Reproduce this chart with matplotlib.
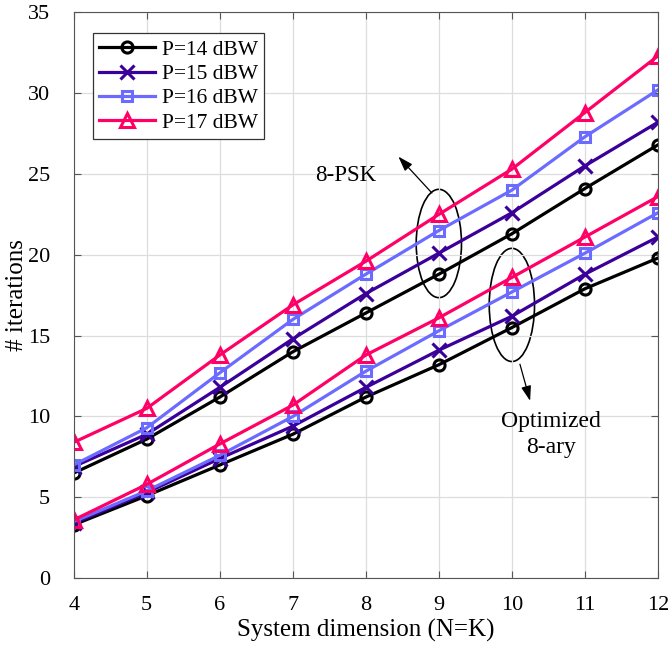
import matplotlib.pyplot as plt
from matplotlib.patches import Ellipse

plt.rcParams['font.family'] = ['Liberation Serif', 'DejaVu Serif']
plt.rcParams['mathtext.fontset'] = 'stix'

N = [4, 5, 6, 7, 8, 9, 10, 11, 12]

# 8-PSK
psk_14 = [6.5, 8.6, 11.2, 14.0, 16.4, 18.8, 21.3, 24.1, 26.8]
psk_15 = [6.9, 8.9, 11.8, 14.8, 17.6, 20.1, 22.6, 25.5, 28.2]
psk_16 = [7.0, 9.3, 12.7, 16.0, 18.8, 21.5, 24.0, 27.3, 30.2]
psk_17 = [8.4, 10.5, 13.8, 16.9, 19.6, 22.5, 25.3, 28.8, 32.3]

# optimized 8-ary
opt_14 = [3.3, 5.1, 7.0, 8.9, 11.2, 13.2, 15.5, 17.9, 19.8]
opt_15 = [3.4, 5.3, 7.4, 9.4, 11.8, 14.1, 16.2, 18.8, 21.1]
opt_16 = [3.5, 5.4, 7.6, 10.0, 12.8, 15.3, 17.7, 20.1, 22.6]
opt_17 = [3.6, 5.8, 8.3, 10.7, 13.8, 16.1, 18.6, 21.1, 23.6]

labels = ['P=14 dBW', 'P=15 dBW', 'P=16 dBW', 'P=17 dBW']
colors = ['black', '#3a0099', '#6b6bff', '#ff0066']
markers = ['o', 'x', 's', '^']
msizes = [8, 10, 7.5, 9.5]

fig = plt.figure(figsize=(6.7, 6.46), dpi=100)
ax = fig.add_axes([0.110, 0.105, 0.872, 0.876])

for i, (a, b) in enumerate(zip([psk_14, psk_15, psk_16, psk_17],
                               [opt_14, opt_15, opt_16, opt_17])):
    kw = dict(color=colors[i], marker=markers[i], markersize=msizes[i],
              markerfacecolor='none', markeredgewidth=2.2, linewidth=2.3)
    ax.plot(N, a, label=labels[i], **kw)
    ax.plot(N, b, **kw)

ax.add_patch(Ellipse((9.0, 20.7), 0.62, 6.7, fill=False, lw=1.2, color='black'))
ax.add_patch(Ellipse((10.0, 16.9), 0.62, 7.0, fill=False, lw=1.2, color='black'))

ax.annotate('', xy=(8.42, 26.2), xytext=(8.93, 23.7),
            arrowprops=dict(arrowstyle='-|>,head_length=0.9,head_width=0.3',
                            color='black', lw=0.9))
ax.text(7.73, 24.9, '8-PSK', fontsize=16.5, ha='center', va='center')

ax.annotate('', xy=(10.26, 10.8), xytext=(10.1, 13.4),
            arrowprops=dict(arrowstyle='-|>,head_length=0.9,head_width=0.3',
                            color='black', lw=0.9))
ax.text(10.53, 8.9, 'Optimized\n8-ary', fontsize=17, ha='center', va='center',
        linespacing=1.3)

ax.set_xlim(4, 12)
ax.set_ylim(0, 35)
ax.set_xticks(N)
ax.set_yticks(range(0, 36, 5))
ax.grid(True, color='#dddddd', linewidth=0.9)
ax.tick_params(direction='in', labelsize=16, top=True, right=True,
               length=5, color='#555555')
ax.tick_params(axis='x', pad=13)
ax.tick_params(axis='y', pad=17)
for s in ax.spines.values():
    s.set_color('#555555')
ax.set_xlabel('System dimension (N=K)', fontsize=18, labelpad=3)
ax.set_ylabel('# iterations', fontsize=18, labelpad=0)

leg = ax.legend(loc='upper left', fontsize=15.5, frameon=True, fancybox=False,
                edgecolor='#333333', framealpha=1, handlelength=2.6,
                borderpad=0.3, labelspacing=0.2, handletextpad=0.3,
                borderaxespad=0, bbox_to_anchor=(0.033, 0.963))
leg.get_frame().set_linewidth(0.9)

fig.savefig('out.png', dpi=100)
